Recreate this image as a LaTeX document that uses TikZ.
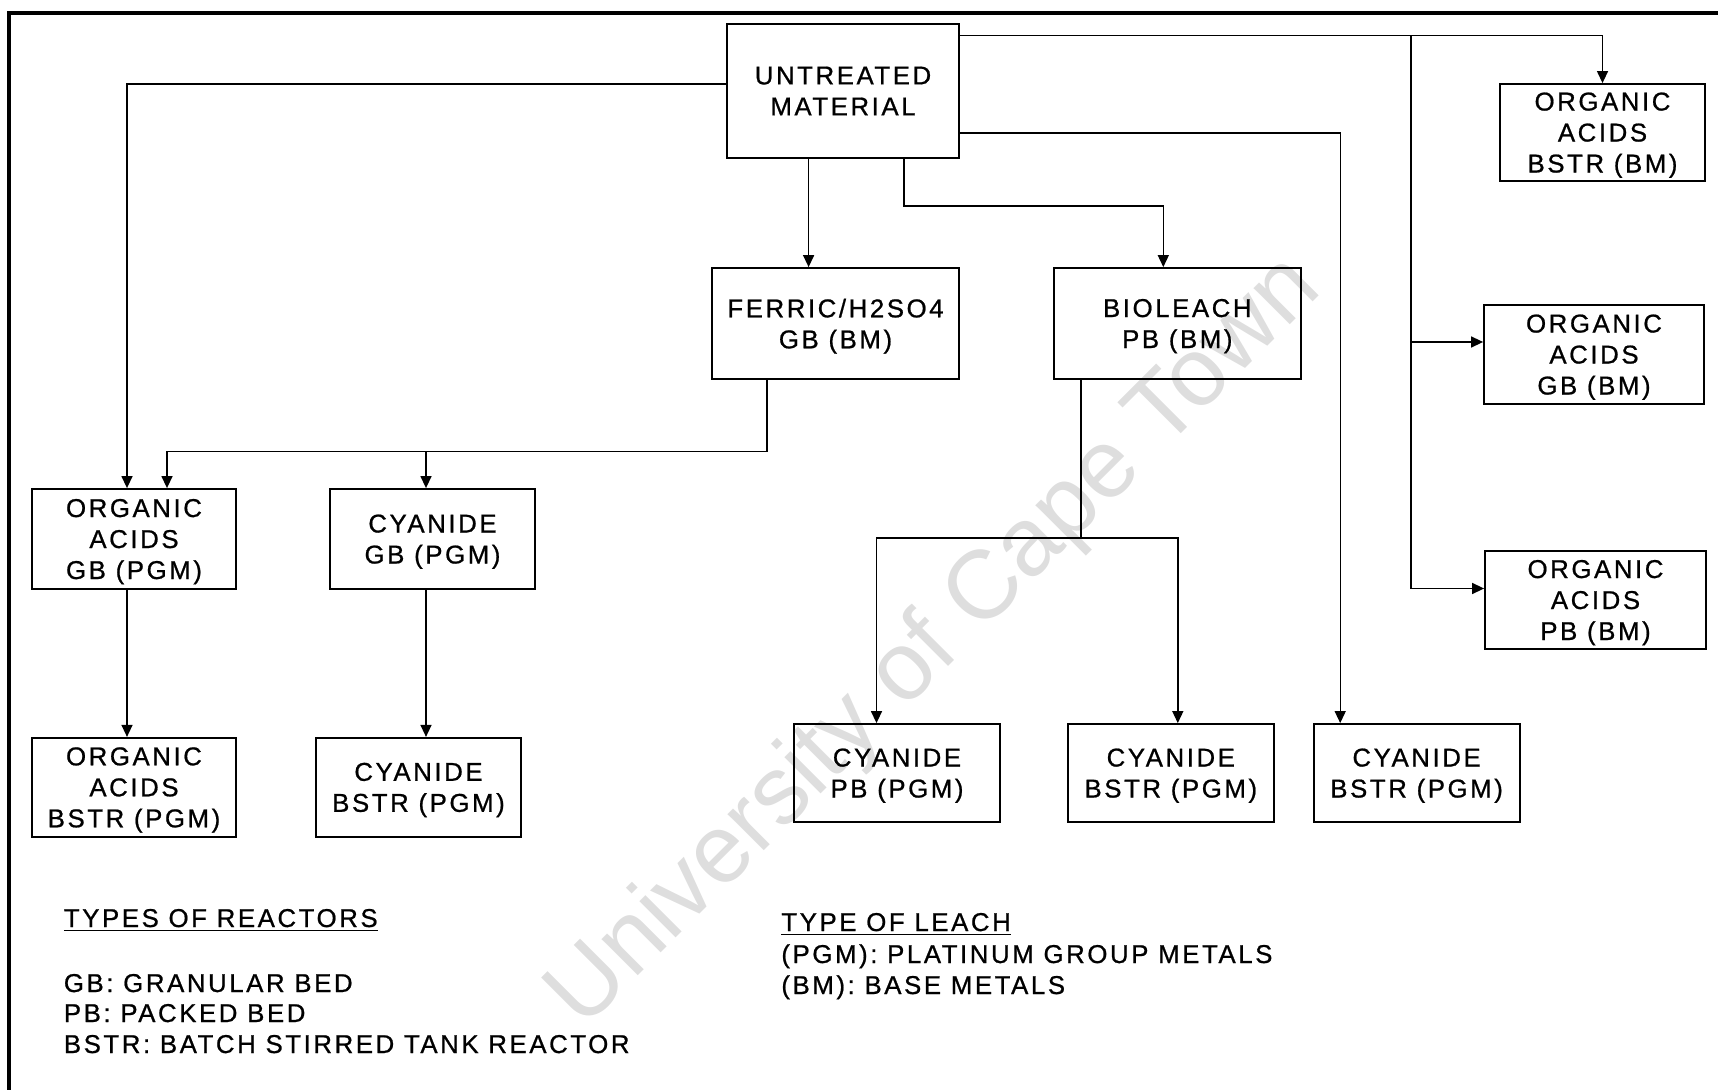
\documentclass[tikz,border=0pt]{standalone}
\usepackage{fontspec}
\usepackage{xcolor}
\usetikzlibrary{arrows.meta, positioning}
\newfontfamily\boxfont{Liberation Sans}[LetterSpace=10, FakeBold=0.8]
\newfontfamily\markfont{Liberation Sans}
\definecolor{markgray}{RGB}{222,222,222}

\begin{document}
\begin{tikzpicture}[
    x=0.5pt, y=-0.5pt,
    box/.style={rectangle, draw, line width=0.9pt, inner sep=0pt, text depth=-1.5pt,
                align=center, font=\boxfont\fontsize{12.9}{15.5}\selectfont},
    arrow/.style={-{Triangle[length=6pt, width=5.5pt]}, line width=0.7pt},
    legend/.style={anchor=base west, inner sep=0pt,
                   font=\boxfont\fontsize{12.9}{15.5}\selectfont},
    frame/.style={line width=1.6pt}
]
\useasboundingbox (0,0) rectangle (1718,1090);
\node[rotate=45, text=markgray, font=\markfont\fontsize{48.5}{48.5}\selectfont] (mark) at (936,643) {University of Cape Town};
\draw[frame] (9,1090) -- (9,13) -- (1718,13);

% first leach
\node[box, minimum width=116pt, minimum height=67pt] (untreated) at (843,91) {UNTREATED\\MATERIAL};
\node[box, minimum width=123.5pt, minimum height=55.5pt] (ferric) at (835.5,323.5) {FERRIC/H2SO4\\GB (BM)};
\node[box, minimum width=123.5pt, minimum height=55.5pt] (bioleach) [right=46.5pt of ferric] {BIOLEACH\\PB (BM)};
\node[box, minimum width=102.5pt, minimum height=48.5pt] (oabstrbm) at (1602.5,132.5) {ORGANIC\\ACIDS\\BSTR (BM)};
\node[box, minimum width=110pt, minimum height=49.5pt] (oagbbm) at (1594,354.5) {ORGANIC\\ACIDS\\GB (BM)};
\node[box, minimum width=110.5pt, minimum height=49pt] (oapbbm) at (1595.5,600) {ORGANIC\\ACIDS\\PB (BM)};

% PGM leach
\node[box, minimum width=102pt, minimum height=50pt] (oagbpgm) at (134,539) {ORGANIC\\ACIDS\\GB (PGM)};
\node[box, minimum width=102.5pt, minimum height=50pt] (cygbpgm) at (432.5,539) {CYANIDE\\GB (PGM)};
\node[box, minimum width=102pt, minimum height=49.5pt] (oabstrpgm) [below=73.5pt of oagbpgm] {ORGANIC\\ACIDS\\BSTR (PGM)};
\node[box, minimum width=102.5pt, minimum height=49.5pt] (cybstrpgm) [below=73.5pt of cygbpgm, xshift=-7pt] {CYANIDE\\BSTR (PGM)};
\node[box, minimum width=103pt, minimum height=49pt] (cypbpgm) at (897,773) {CYANIDE\\PB (PGM)};
\node[box, minimum width=103pt, minimum height=49pt] (cybstrbio) [right=33pt of cypbpgm] {CYANIDE\\BSTR (PGM)};
\node[box, minimum width=103pt, minimum height=49pt] (cybstrraw) [right=19pt of cybstrbio] {CYANIDE\\BSTR (PGM)};

% from untreated material
\draw[arrow] ([yshift=3.5pt]untreated.west) -| ([xshift=-3.5pt]oagbpgm.north);
\draw[arrow] ([xshift=-17.2pt]untreated.south) -- ([xshift=-17.2pt]untreated.south |- ferric.north);
\draw[arrow] ([xshift=30.5pt]untreated.south) |- ([xshift=-7pt,yshift=30.5pt]bioleach.north) -- ([xshift=-7pt]bioleach.north);
\draw[arrow] ([yshift=27.6pt]untreated.east) -| (oabstrbm.north);
\path ([yshift=27.6pt]untreated.east) -- ++(451,0) coordinate (tap);
\draw[arrow] (tap) |- ([yshift=5.75pt]oapbbm.west);
\draw[arrow] ([yshift=6.25pt]oagbbm.west -| tap) -- ([yshift=6.25pt]oagbbm.west);
\draw[arrow] ([yshift=-21pt]untreated.east) -| ([xshift=-38.2pt]cybstrraw.north);

% from ferric and bioleach
\draw[arrow] ([xshift=-34.25pt]ferric.south) |- ([xshift=16.5pt,yshift=18.25pt]oagbpgm.north) -- ([xshift=16.5pt]oagbpgm.north);
\draw[arrow] ([xshift=-3.25pt,yshift=18.25pt]cygbpgm.north) -- ([xshift=-3.25pt]cygbpgm.north);
\draw[arrow] ([xshift=-48.25pt]bioleach.south) |- ([xshift=-10.25pt,yshift=92.5pt]cypbpgm.north) -- ([xshift=-10.25pt]cypbpgm.north);
\draw[arrow] ([xshift=-48.25pt]bioleach.south) |- ([xshift=3.5pt,yshift=92.5pt]cybstrbio.north) -- ([xshift=3.5pt]cybstrbio.north);
\draw[arrow] ([xshift=-3.5pt]oagbpgm.south) -- ([xshift=-3.5pt]oabstrpgm.north);
\draw[arrow] ([xshift=-3.25pt]cygbpgm.south) -- ([xshift=-3.25pt]cygbpgm.south |- cybstrpgm.north);

% legend
\node[legend] (reactors) at (63.5,927) {\underline{TYPES OF REACTORS}};
\node[legend] (gb) at (63.5,992) {GB: GRANULAR BED};
\node[legend] (pb) at (63.5,1022) {PB: PACKED BED};
\node[legend] (bstr) at (63.5,1053) {BSTR: BATCH STIRRED TANK REACTOR};
\node[legend] (leach) at (781,931) {\underline{TYPE OF LEACH}};
\node[legend] (pgm) at (781,963) {(PGM): PLATINUM GROUP METALS};
\node[legend] (bm) at (781,994) {(BM): BASE METALS};
\end{tikzpicture}
\end{document}
